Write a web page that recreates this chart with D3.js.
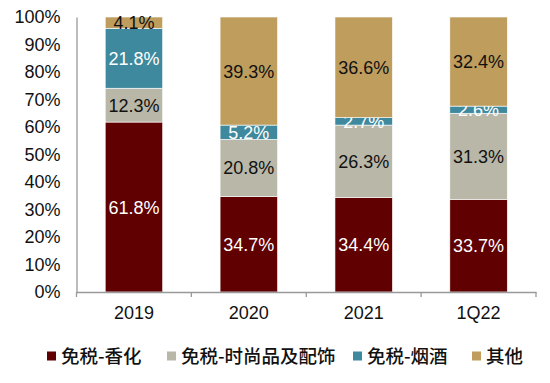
<!DOCTYPE html>
<html><head><meta charset="utf-8">
<script src="https://cdn.jsdelivr.net/npm/d3@7"></script>
<style>body{margin:0;background:#fff;}svg{display:block;}</style>
</head><body>
<svg id="chart" width="550" height="383"></svg>
<script>
const categories = ["2019", "2020", "2021", "1Q22"];
const seriesNames = ["免税-香化", "免税-时尚品及配饰", "免税-烟酒", "其他"];
const cosmetics = [61.8, 34.7, 34.4, 33.7];
const fashion = [12.3, 20.8, 26.3, 31.3];
const tobacco = [21.8, 5.2, 2.7, 2.6];
const others = [4.1, 39.3, 36.6, 32.4];
const yTicks = [0, 10, 20, 30, 40, 50, 60, 70, 80, 90, 100];

const colors = ["#600000", "#B9B7A7", "#3E899D", "#BE9D5D"];
const labelColors = ["#fff", "#111", "#fff", "#111"];
const seriesValues = [cosmetics, fashion, tobacco, others];

const svg = d3.select("#chart");
const plotLeft = 76.5, plotRight = 536, plotTop = 17, plotBottom = 292;

const x = d3.scaleBand().domain(categories).range([plotLeft, plotRight]).paddingInner(0.5).paddingOuter(0.25);
const y = d3.scaleLinear().domain([0, 100]).range([plotBottom, plotTop]);

const rows = categories.map((c, i) => {
  const r = {cat: c};
  seriesNames.forEach((s, j) => r[s] = seriesValues[j][i]);
  return r;
});
const stack = d3.stack().keys(seriesNames)(rows);

const font = "'Liberation Sans', Arial, sans-serif";
const cjk = "'Noto Sans CJK SC', sans-serif";

stack.forEach((layer, j) => {
  const g = svg.append("g");
  g.selectAll("rect").data(layer).enter().append("rect")
    .attr("x", d => x(d.data.cat))
    .attr("width", x.bandwidth())
    .attr("y", d => y(d[1]))
    .attr("height", d => y(d[0]) - y(d[1]))
    .attr("fill", colors[j])
    .attr("stroke", "#fff").attr("stroke-width", 0.6);
  g.selectAll("text").data(layer).enter().append("text")
    .attr("x", d => x(d.data.cat) + x.bandwidth() / 2)
    .attr("y", d => (y(d[0]) + y(d[1])) / 2)
    .attr("dy", "0.36em")
    .attr("text-anchor", "middle")
    .attr("font-family", font).attr("font-size", 18)
    .attr("fill", labelColors[j])
    .text(d => (d[1] - d[0]).toFixed(1) + "%");
});

// y axis
const yAxis = svg.append("g").attr("transform", `translate(${plotLeft},0)`)
  .call(d3.axisLeft(y).tickValues(yTicks).tickSize(0).tickPadding(16).tickFormat(d => d + "%"));
yAxis.select(".domain").attr("stroke", "#999").attr("stroke-width", 1.3);
yAxis.selectAll("text").attr("font-family", font).attr("font-size", 18).attr("fill", "#111");

// x axis
const xAxis = svg.append("g").attr("transform", `translate(0,${plotBottom})`)
  .call(d3.axisBottom(x).tickSize(0).tickPadding(14));
xAxis.select(".domain").attr("stroke", "#999").attr("stroke-width", 1.3);
xAxis.selectAll("text").attr("font-family", font).attr("font-size", 18).attr("fill", "#111");
const step = x.step();
xAxis.selectAll(".sep").data(d3.range(categories.length + 1)).enter().append("line")
  .attr("x1", i => plotLeft + i * step).attr("x2", i => plotLeft + i * step)
  .attr("y1", 0).attr("y2", 5).attr("stroke", "#999").attr("stroke-width", 1.3);

// legend
const legendX = [47, 167, 353, 472];
const legend = svg.append("g");
seriesNames.forEach((s, j) => {
  legend.append("rect").attr("x", legendX[j]).attr("y", 351.5).attr("width", 9).attr("height", 9).attr("fill", colors[j]);
  legend.append("text").attr("x", legendX[j] + 14).attr("y", 356).attr("dy", "0.36em")
    .attr("font-family", cjk).attr("font-size", 18.5).attr("font-weight", 500).attr("fill", "#111").text(s);
});
</script>
</body></html>
